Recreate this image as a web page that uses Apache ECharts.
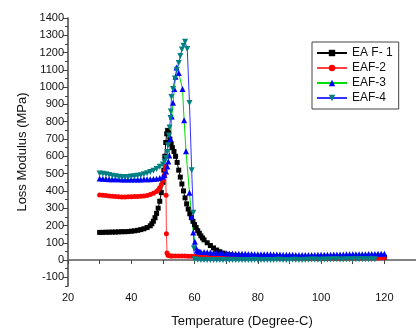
<!DOCTYPE html>
<html>
<head>
<meta charset="utf-8">
<script src="https://cdn.jsdelivr.net/npm/echarts@6/dist/echarts.min.js"></script>
<style>html,body{margin:0;padding:0;background:#fff;}#c{width:416px;height:333px;}</style>
</head>
<body>
<div id="c"></div>
<script>
var seriesNames = ['EA F- 1', 'EAF-2', 'EAF-3', 'EAF-4'];
var yTickLabels = [-100,0,100,200,300,400,500,600,700,800,900,1000,1100,1200,1300,1400];
var yMinorTicks = [-150,-50,50,150,250,350,450,550,650,750,850,950,1050,1150,1250,1350];

var t1 = [30,31,32,33,34,35,36,37,38,39,40,41,42,43,44,45,46,46.5,47,47.5,48,48.5,49,49.5,50,50.3,50.6,50.9,51.2,51.5,51.8,52.2,52.6,53,53.5,54,54.5,55,55.5,56,56.5,57,57.5,58,58.5,59,59.5,60,60.5,61,61.5,62,62.5,63,64,65,66,67,68,69,70,71,72,73,74,75,76,77,78,79,80,81,82,83,84,85,86,87,88,89,90,91,92,93,94,95,96,97,98,99,100,101,102,103,104,105,106,107,108,109,110,111,112,113,114,115,116,117,118,119,120];
var v1 = [160,160,161,161,162,162,163,164,164,165,167,169,172,176,181,188,198,210,225,245,270,300,340,390,450,520,600,680,730,750,735,700,672,650,628,600,565,520,480,440,400,360,325,295,268,245,224,205,188,170,155,140,128,117,100,84,70,58,48,40,34,30,27,24,22,21,20,19,18,18,17,17,17,16,16,16,16,15,15,15,15,15,15,15,14,14,14,14,14,14,14,14,14,14,14,14,14,15,15,15,15,15,15,15,15,15,15,15,16,16,16];

var t2 = [30,31,32,33,34,35,36,37,38,39,40,41,42,43,44,45,46,47,48,48.5,49,49.5,50,50.4,50.7,50.9,51,51.1,51.3,51.6,52,52.5,53,54,55,56,57,58,59,60,61,62,63,64,65,66,67,68,69,70,71,72,73,74,75,76,77,78,79,80,81,82,83,84,85,86,87,88,89,90,91,92,93,94,95,96,97,98,99,100,101,102,103,104,105,106,107,108,109,110,111,112,113,114,115,116,117,118,119,120];
var v2 = [376,375,373,371,369,367,366,365,365,366,366,367,368,369,371,374,379,386,396,405,418,436,460,490,520,545,375,152,41,28,25,24,24,24,23,23,23,22,22,22,22,21,21,20,20,20,19,19,19,18,18,18,17,17,17,16,16,16,15,15,15,14,14,14,13,13,13,12,12,12,12,11,11,11,11,10,10,10,10,10,10,10,10,10,10,10,10,11,11,11,11,11,11,12,12,12,12,12,13,13];

var t3 = [30,31,32,33,34,35,36,37,38,39,40,41,42,43,44,45,46,47,48,49,50,50.5,51,51.4,51.7,52,52.4,52.8,53.2,53.6,54,54.3,55,56.2,56.7,57.3,58.4,59.1,59.6,60.1,60.4,60.8,61.2,61.6,62,63,64,65,66,67,68,69,70,71,72,73,74,75,76,77,78,79,80,81,82,83,84,85,86,87,88,89,90,91,92,93,94,95,96,97,98,99,100,101,102,103,104,105,106,107,108,109,110,111,112,113,114,115,116,117,118,119,120];
var v3 = [472,470,469,468,468,467,467,466,466,466,466,466,466,466,467,467,468,469,470,474,482,492,512,541,570,605,700,831,910,989,1060,1114,1082,989,809,630,389,250,160,106,72,55,50,48,47,46,45,44,43,42,41,40,39,38,38,37,37,36,36,35,35,34,34,34,33,33,33,32,32,32,31,31,31,31,30,30,30,30,30,30,30,31,31,31,31,31,32,32,32,32,33,33,33,33,34,34,34,35,35,35,36,36,37];

var t4 = [30,31,32,33,34,35,36,37,38,39,40,41,42,43,44,45,46,47,48,49,50,50.5,51,51.4,51.6,51.9,52.1,52.4,52.5,52.7,53.2,53.8,54.4,55,55.5,56,56.5,57,57.7,58.4,59.1,59.6,59.8,60,61,62,63,64,65,66,67,68,69,70,71,72,73,74,75,76,77,78,79,80,81,82,83,84,85,86,87,88,89,90,91,92,93,94,95,96,97,98,99,100,101,102,103,104,105,106,107,108,109,110,111,112,113,114,115,116,117,118,119,120];
var v4 = [500,499,496,492,488,485,482,480,480,481,483,485,487,491,496,502,509,517,527,539,553,568,590,625,664,720,766,822,859,943,990,1050,1100,1140,1180,1218,1240,1262,1220,909,519,273,69,5,2,1,1,0,0,1,0,0,1,1,0,0,1,1,0,0,1,1,2,1,1,0,0,1,1,2,2,1,1,1,2,2,1,1,2,2,3,3,2,2,3,3,3,4,4,3,3,4,4,4,5,5,4,4,5,5,5];

function pairs(t, v) { var a = []; for (var i = 0; i < t.length; i++) a.push([t[i], v[i]]); return a; }

var chart = echarts.init(document.getElementById('c'), null, {renderer: 'canvas'});
var font = 'Liberation Sans, Arial, sans-serif';
var option = {
  animation: false,
  backgroundColor: '#fff',
  grid: {left: 68, top: 18, width: 357.5, height: 278, containLabel: false},
  legend: {
    orient: 'vertical', left: 312, top: 42,
    padding: [4, 6, 4, 4], itemGap: 1, itemWidth: 30, itemHeight: 8,
    borderColor: '#444', borderWidth: 1, backgroundColor: '#fff',
    textStyle: {fontFamily: font, fontSize: 12, color: '#111', lineHeight: 14},
    data: seriesNames
  },
  xAxis: [{
    type: 'value', min: 20, max: 130, interval: 20,
    name: 'Temperature (Degree-C)', nameLocation: 'middle', nameGap: 29,
    nameTextStyle: {fontFamily: font, fontSize: 13, color: '#111'},
    axisLine: {show: true, lineStyle: {color: '#444', width: 1.5}},
    axisTick: {show: true, length: 4, lineStyle: {color: '#444'}},
    minorTick: {show: true, splitNumber: 2, length: 4, lineStyle: {color: '#444'}},
    axisLabel: {fontFamily: font, fontSize: 11, color: '#111', margin: 6, showMaxLabel: false},
    splitLine: {show: false}
  }, {
    type: 'value', min: 20, max: 130, position: 'top',
    axisLine: {show: true, lineStyle: {color: '#888', width: 1.5}},
    axisTick: {show: false}, axisLabel: {show: false}, splitLine: {show: false}
  }],
  yAxis: [{
    type: 'value', min: -150, max: 1400, interval: 50,
    name: 'Loss Modulus (MPa)', nameLocation: 'middle', nameGap: 33,
    nameTextStyle: {fontFamily: font, fontSize: 13, color: '#111'},
    axisLine: {show: true, lineStyle: {color: '#444', width: 1.5}},
    axisTick: {show: true, length: 5, customValues: yTickLabels, lineStyle: {color: '#444'}},
    axisLabel: {fontFamily: font, fontSize: 11, color: '#111', margin: 4, customValues: yTickLabels,
      formatter: function (v) { return (v % 100 === 0) ? String(v) : ''; }},
    splitLine: {show: false}
  }, {
    type: 'value', min: -150, max: 1400, interval: 50, position: 'left',
    axisLine: {show: false},
    axisTick: {show: true, length: 3, customValues: yMinorTicks, lineStyle: {color: '#444'}},
    axisLabel: {show: false}, splitLine: {show: false}
  }],
  series: [{
    name: seriesNames[0], type: 'line', data: pairs(t1, v1),
    symbol: 'rect', symbolSize: 5, showAllSymbol: true,
    lineStyle: {color: '#000', width: 1}, itemStyle: {color: '#000'}
  }, {
    name: seriesNames[1], type: 'line', data: pairs(t2, v2),
    symbol: 'circle', symbolSize: 5, showAllSymbol: true,
    lineStyle: {color: '#ff4040', width: 1}, itemStyle: {color: '#ff0000'}
  }, {
    name: seriesNames[2], type: 'line', data: pairs(t3, v3),
    symbol: 'triangle', symbolSize: 6, showAllSymbol: true,
    lineStyle: {color: '#00dd00', width: 1}, itemStyle: {color: '#0000ff'}
  }, {
    name: seriesNames[3], type: 'line', data: pairs(t4, v4),
    symbol: 'triangle', symbolRotate: 180, symbolSize: 6, showAllSymbol: true,
    lineStyle: {color: '#3333ff', width: 1}, itemStyle: {color: '#008080'}
  }]
};
chart.setOption(option);
</script>
</body>
</html>
